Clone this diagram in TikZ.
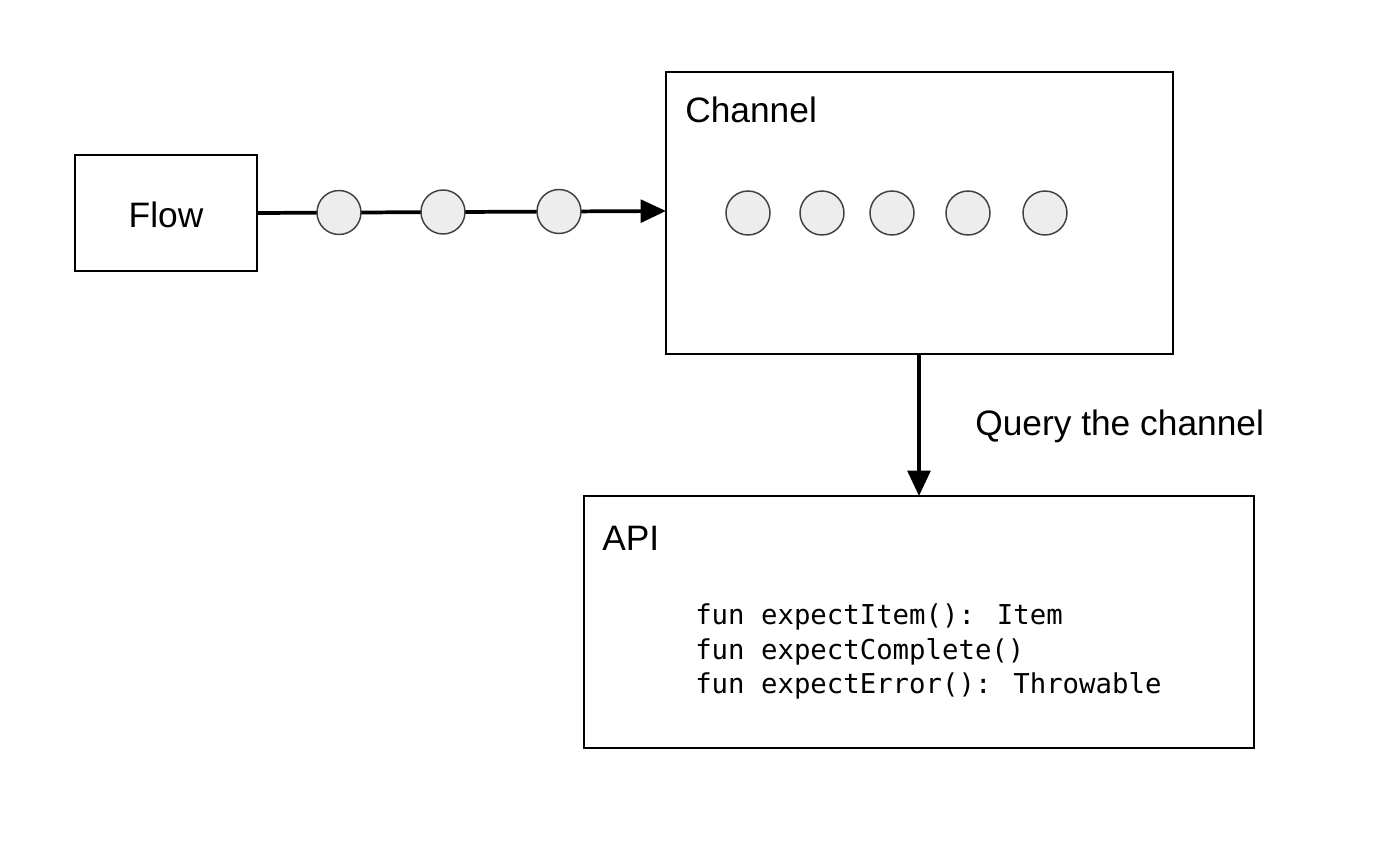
\documentclass[tikz,border=0pt]{standalone}
\usepackage{fontspec}
\setmainfont{Liberation Sans}
\newfontfamily\codefont{DejaVu Sans Mono}
\usetikzlibrary{arrows.meta}
\begin{document}
\begin{tikzpicture}[x=0.75pt,y=-0.75pt,
  boxstyle/.style={draw=black,line width=1.5pt,fill=white},
  dot/.style={circle,draw=black!75,line width=1.1pt,fill=black!7,minimum size=33pt,inner sep=0pt},
  conn/.style={line width=2.8pt,-{Triangle[length=19pt,width=17pt]}},
  lbl/.style={font=\fontsize{26.5}{30}\selectfont,inner sep=0pt},
  code/.style={font=\codefont\fontsize{20.5}{25.5}\selectfont,inner sep=0pt,align=left}]
\useasboundingbox (0,0) rectangle (1400,848);
\fill[white] (0,0) rectangle (1400,848);
% boxes
\draw[boxstyle] (75,155) rectangle (257,271);
\node[inner sep=0pt,minimum width=182*0.75pt,minimum height=116*0.75pt] (flow) at (166,213) {};
\node[lbl] (flowlbl) at (166,215) {Flow};
\draw[boxstyle] (666,72) rectangle (1173,354);
\node[inner sep=0pt,minimum width=507*0.75pt,minimum height=282*0.75pt] (channel) at (919.5,213) {};
\node[lbl,anchor=base west] (chlbl) at (685,123) {Channel};
\draw[boxstyle] (584,496) rectangle (1254,748);
\node[inner sep=0pt,minimum width=670*0.75pt,minimum height=252*0.75pt] (api) at (919,622) {};
\node[lbl,anchor=base west] (apilbl) at (602,550) {API};
% connectors
\coordinate (fstart) at (257,213);
\coordinate (fend) at (666,211);
\draw[conn] (fstart) -- (fend);
\coordinate (vstart) at (919,354);
\coordinate (vend) at (919,496);
\draw[conn] (vstart) -- (vend);
\node[lbl,anchor=base west] (query) at (975,436) {Query the channel};
% moving items
\node[dot] (m1) at (339,212.5) {};
\node[dot] (m2) at (443,212) {};
\node[dot] (m3) at (559,211.5) {};
% buffered items
\node[dot] (b1) at (748,213) {};
\node[dot] (b2) at (822,213) {};
\node[dot] (b3) at (892,213) {};
\node[dot] (b4) at (968,213) {};
\node[dot] (b5) at (1045,213) {};
% code
\node[code,anchor=base west] (c1) at (695,624) {fun expectItem(): Item};
\node[code,anchor=base west] (c2) at (695,659) {fun expectComplete()};
\node[code,anchor=base west] (c3) at (695,693) {fun expectError(): Throwable};
\end{tikzpicture}
\end{document}
